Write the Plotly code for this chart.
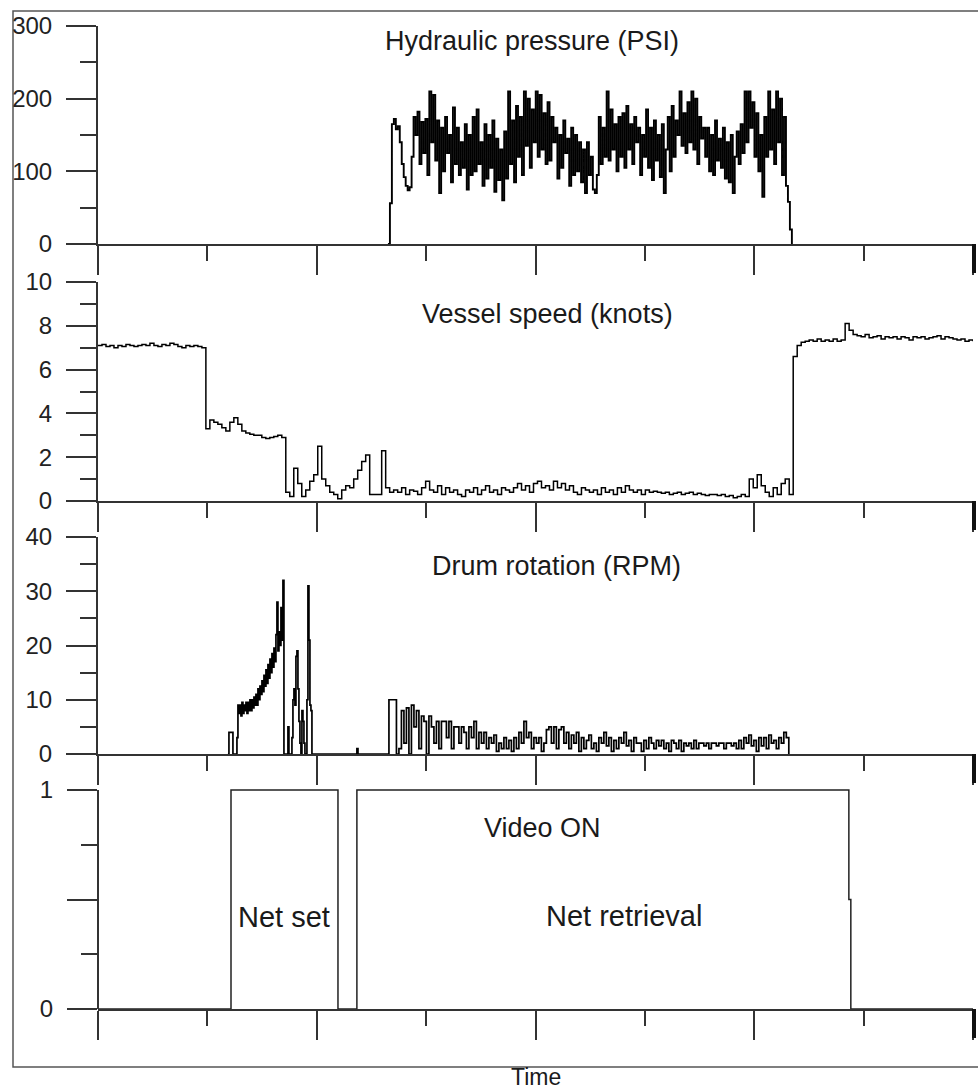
import numpy as np
import plotly.graph_objects as go

# ---------------- data (time axis has 8 unlabeled intervals) ----------------
x_ticks_major = [0, 2, 4, 6, 8]
x_ticks_minor = [1, 3, 5, 7]

pressure_start, pressure_end = 2.651, 6.344
pressure_psi = [0,
    56, 165, 172, 158, 162, 140, 110, 92, 80, 74, 78, 120, 175, 150, 182, 110, 168, 125, 172, 95,
    210, 140, 205, 115, 170, 70, 160, 100, 175, 125, 150, 85, 188, 110, 160, 95, 140, 105, 165, 75,
    150, 95, 175, 100, 185, 110, 140, 80, 165, 90, 150, 105, 170, 72, 145, 88, 130, 60, 155, 90,
    210, 110, 170, 85, 190, 120, 175, 95, 210, 135, 200, 105, 185, 140, 210, 120, 205, 130, 180, 110,
    195, 115, 175, 140, 160, 90, 150, 105, 170, 125, 145, 80, 160, 95, 150, 100, 140, 85, 130, 70,
    140, 95, 120, 75, 70, 95, 175, 110, 160, 120, 210, 115, 185, 130, 165, 100, 175, 120, 180, 105,
    190, 130, 165, 110, 175, 140, 160, 95, 150, 120, 185, 105, 160, 88, 170, 115, 150, 92, 165, 70,
    130, 175, 100, 190, 120, 170, 150, 210, 135, 180, 125, 195, 140, 210, 130, 200, 110, 175, 145, 160,
    120, 160, 100, 150, 95, 170, 115, 145, 105, 160, 90, 140, 85, 150, 70, 120, 155, 110, 165, 125,
    210, 140, 210, 160, 195, 120, 180, 100, 150, 65, 175, 120, 210, 130, 185, 110, 210, 140, 200, 95,
    175, 80, 58, 20, 0]

speed_start, speed_end = 0.0, 8.0
speed_knots = [
    7.1, 7.15, 7.05, 7.1, 7.0, 7.1, 7.05, 7.15, 7.1, 7.05, 7.1, 7.15, 7.1, 7.2, 7.1, 7.05, 7.15, 7.1,
    7.2, 7.15, 7.05, 7.0, 7.1, 7.05, 7.1, 7.05, 7.0,
    3.3, 3.7, 3.6, 3.5, 3.35, 3.2, 3.6, 3.8, 3.5, 3.2,
    3.1, 3.05, 3.0, 3.0, 2.9, 2.85, 2.9, 2.95, 3.0, 2.9,
    0.4, 0.2, 1.5, 0.8, 0.2, 0.5, 0.9, 1.2, 2.5, 1.0,
    0.7, 0.4, 0.3, 0.1, 0.5, 0.7, 0.6, 1.0, 1.4, 1.8,
    2.1, 0.3, 0.3, 0.3, 2.3, 0.6, 0.4,
    0.5, 0.4, 0.6, 0.3, 0.5, 0.45, 0.3, 0.6, 0.9, 0.5,
    0.4, 0.7, 0.3, 0.6, 0.4, 0.5, 0.3, 0.2, 0.5, 0.4,
    0.6, 0.3, 0.5, 0.7, 0.4, 0.5, 0.3, 0.6, 0.5, 0.4,
    0.6, 0.8, 0.5, 0.7, 0.4, 0.8, 0.9, 0.6, 0.7, 0.5,
    0.9, 0.6, 0.8, 0.5, 0.7, 0.4, 0.3, 0.6, 0.5, 0.4,
    0.5, 0.3, 0.6, 0.4, 0.5, 0.3, 0.6, 0.4, 0.7, 0.5,
    0.4, 0.5, 0.3, 0.5, 0.4, 0.45, 0.4, 0.35, 0.4, 0.3,
    0.35, 0.4, 0.3, 0.35, 0.4, 0.3, 0.35, 0.3, 0.25, 0.3,
    0.3, 0.25, 0.3, 0.2, 0.25, 0.15, 0.2, 0.3, 0.2, 1.0,
    0.6, 1.2, 0.7, 0.4, 0.2, 0.6, 0.3, 0.8, 1.0, 0.3,
    6.6, 7.1, 7.25, 7.3, 7.35, 7.3, 7.4, 7.3, 7.35, 7.3, 7.4, 7.3, 7.35, 8.1, 7.8, 7.6,
    7.55, 7.5, 7.6, 7.45, 7.5, 7.55, 7.4, 7.5, 7.45, 7.5, 7.4, 7.5, 7.45, 7.35, 7.5,
    7.45, 7.5, 7.4, 7.45, 7.5, 7.55, 7.4, 7.5, 7.45, 7.4, 7.35, 7.4, 7.3, 7.35, 7.3]

drum_burst_start, drum_burst_end = 1.188, 1.956
drum_burst_rpm = [
    0, 4, 4, 4, 4, 0, 0, 0, 0, 3,
    9, 7.5, 9, 7, 9.5, 7.5, 9, 8, 9.5, 7.5,
    9.5, 8, 10, 8, 10, 8.5, 10.5, 9, 11, 9,
    12, 10, 12.5, 11, 13.5, 11.5, 14.5, 12.5, 15.5, 13,
    16.5, 14, 17.5, 15, 18.5, 16, 19.5, 17, 22, 28,
    19, 22.5, 20, 27, 21, 32, 0, 0, 0, 0,
    5, 0, 0, 0, 3, 10, 12, 9, 18, 19,
    12, 6, 2, 0, 8, 6, 2, 0, 0, 10,
    31, 21, 9, 8, 0]
drum_blip_t = [2.358, 2.367, 2.377]
drum_blip_rpm = [0, 1, 0]
drum_tail_start, drum_tail_end = 2.660, 6.316
drum_tail_rpm = [
    10, 10, 10, 0, 1, 8, 2, 8.5, 0, 9,
    5, 8, 1, 7, 6, 0, 7, 5, 2, 6,
    1, 6, 6, 3, 6, 1, 5, 5, 2, 5,
    4, 1, 5, 3, 6, 1, 4, 2, 4, 1,
    3, 2, 3.5, 0.5, 2, 1, 3, 1, 2.5, 0.5,
    3, 1, 4, 2, 6, 3, 4, 1, 3, 2,
    3, 0.5, 2, 4.5, 5, 2, 5, 1, 4.5, 5,
    2, 4, 1, 3.5, 2, 4, 0.5, 3, 1, 2.5,
    3.5, 1, 2, 0.5, 3, 2, 4, 1.5, 3, 0.5,
    2.5, 1, 3, 2, 4, 1.5, 2.5, 0.5, 3, 2,
    2, 0.5, 2.5, 1, 3, 2, 1, 2.5, 1.5, 2.5,
    1, 2, 0.5, 2.5, 2, 1, 2.5, 0.5, 2, 1.5,
    2, 1, 2.5, 1, 2, 2, 1.5, 2, 1, 2,
    2, 1.5, 2, 2, 1, 2, 2, 1.5, 2, 1,
    2.5, 1, 3, 2, 3.5, 1.5, 2.5, 0.5, 3, 1.5,
    3, 1, 3.5, 2, 2.5, 1, 3, 2, 4, 3,
    0]

video_t = [0, 1.216, 2.194, 2.367, 6.865, 6.883, 8]
video_on = [0, 1, 0, 1, 0.5, 0, 0]

panel_titles = ["Hydraulic pressure (PSI)", "Vessel speed (knots)", "Drum rotation (RPM)", "Video ON"]
phase_labels = ["Net set", "Net retrieval"]
x_title = "Time"

# ---------------- layout helpers ----------------
W, H = 978, 1092
FONT = "Liberation Sans, Arial, Helvetica, sans-serif"
AX = "#333333"
TXT = "#1a1a1a"


def px_x(p):
    return p / W


def px_y(p):
    return 1 - p / H


x_dom = [px_x(98), px_x(973)]
y_doms = [
    [px_y(244), px_y(26)],
    [px_y(501), px_y(282)],
    [px_y(754), px_y(537)],
    [px_y(1009), px_y(1009 - 219 * 1.1)],
]

pressure_t = np.linspace(pressure_start, pressure_end, len(pressure_psi))
speed_t = np.linspace(speed_start, speed_end, len(speed_knots))
drum_t = np.concatenate([
    np.linspace(drum_burst_start, drum_burst_end, len(drum_burst_rpm)),
    np.array(drum_blip_t),
    np.linspace(drum_tail_start, drum_tail_end, len(drum_tail_rpm)),
])
drum_v = list(drum_burst_rpm) + list(drum_blip_rpm) + list(drum_tail_rpm)

fig = go.Figure()
series = [
    (pressure_t, pressure_psi, 1.9),
    (speed_t, speed_knots, 1.5),
    (drum_t, drum_v, 1.7),
    (video_t, video_on, 1.5),
]
for i, (xs, ys, lw) in enumerate(series):
    sfx = "" if i == 0 else str(i + 1)
    fig.add_trace(go.Scatter(
        x=xs, y=ys, mode="lines", line=dict(color="#000000" if i < 3 else "#222222", width=lw, shape="hv"),
        xaxis="x" + sfx, yaxis="y" + sfx, showlegend=False, hoverinfo="skip"))

y_specs = [
    dict(range=[0, 300], tickvals=[0, 100, 200, 300], ticktext=["0", "100", "200", "300"], minor=[50, 150, 250]),
    dict(range=[0, 10], tickvals=[0, 2, 4, 6, 8, 10], ticktext=["0", "2", "4", "6", "8", "10"], minor=[1, 3, 5, 7, 9]),
    dict(range=[0, 40], tickvals=[0, 10, 20, 30, 40], ticktext=["0", "10", "20", "30", "40"], minor=[5, 15, 25, 35]),
    dict(range=[0, 1.1], tickvals=[0, 0.5, 1], ticktext=["0", "", "1"], minor=[0.25, 0.75]),
]

layout = dict(
    template="none",
    width=W, height=H, margin=dict(l=0, r=0, t=0, b=0, autoexpand=False),
    paper_bgcolor="white", plot_bgcolor="white",
    font=dict(family=FONT, color=TXT),
    showlegend=False,
)
for i in range(4):
    sfx = "" if i == 0 else str(i + 1)
    spec = y_specs[i]
    layout["xaxis" + sfx] = dict(
        domain=x_dom, range=[0, 8], anchor="y" + sfx, showline=True, linecolor=AX, linewidth=2,
        ticks="outside", tickvals=x_ticks_major, ticklen=29, tickwidth=2, tickcolor=AX,
        showticklabels=False, showgrid=False, zeroline=False, fixedrange=True, automargin=False,
        minor=dict(tickvals=x_ticks_minor, ticks="outside", ticklen=15, tickwidth=2, tickcolor=AX, showgrid=False),
    )
    layout["yaxis" + sfx] = dict(
        domain=y_doms[i], range=spec["range"], anchor="x" + sfx, showline=(i < 3), linecolor=AX, linewidth=2,
        ticks="outside", tickvals=spec["tickvals"], ticktext=spec["ticktext"], ticklen=30, tickwidth=2, tickcolor=AX,
        tickfont=dict(family=FONT, size=24, color="#222222"), ticklabelstandoff=9,
        showgrid=False, zeroline=False, fixedrange=True, automargin=False,
        minor=dict(tickvals=spec["minor"], ticks="outside", ticklen=16, tickwidth=2, tickcolor=AX, showgrid=False),
    )
fig.update_layout(**layout)

shapes = []
# outer frame
shapes.append(dict(type="rect", xref="paper", yref="paper", x0=px_x(13), x1=1.01, y0=px_y(1067), y1=px_y(11),
                   line=dict(color="#555555", width=1.5), fillcolor="rgba(0,0,0,0)", layer="below"))
# y axis line for the video panel (0..1 only)
shapes.append(dict(type="line", xref="paper", yref="y4", x0=x_dom[0], x1=x_dom[0], y0=0, y1=1,
                   line=dict(color=AX, width=2)))
# thick end ticks at the right end of each time axis
for base in [244, 501, 754, 1009]:
    shapes.append(dict(type="line", xref="paper", yref="paper", x0=px_x(974), x1=px_x(974),
                       y0=px_y(base), y1=px_y(base + 29), line=dict(color="#111111", width=4)))
fig.update_layout(shapes=shapes)

ann = []
title_pos = [(532, 41.5), (547, 313.5), (556, 566), (542, 828)]
for (tx, ty), txt, sz in zip(title_pos, panel_titles, [27, 27, 27, 27]):
    ann.append(dict(text=txt, xref="paper", yref="paper", x=px_x(tx), y=px_y(ty), xanchor="center",
                    yanchor="middle", showarrow=False, font=dict(family=FONT, size=sz, color=TXT)))
for (tx, ty), txt in zip([(284, 917), (624, 916)], phase_labels):
    ann.append(dict(text=txt, xref="paper", yref="paper", x=px_x(tx), y=px_y(ty), xanchor="center",
                    yanchor="middle", showarrow=False, font=dict(family=FONT, size=29, color=TXT)))
ann.append(dict(text=x_title, xref="paper", yref="paper", x=px_x(536), y=px_y(1077), xanchor="center",
                yanchor="middle", showarrow=False, font=dict(family=FONT, size=23, color=TXT)))
fig.update_layout(annotations=ann)

page_css = ("document.documentElement.style.margin='0';document.documentElement.style.overflow='hidden';"
            "document.body.style.margin='0';document.body.style.padding='0';document.body.style.overflow='hidden';")
fig.write_html("out.html", config={"displayModeBar": False}, post_script=page_css)
